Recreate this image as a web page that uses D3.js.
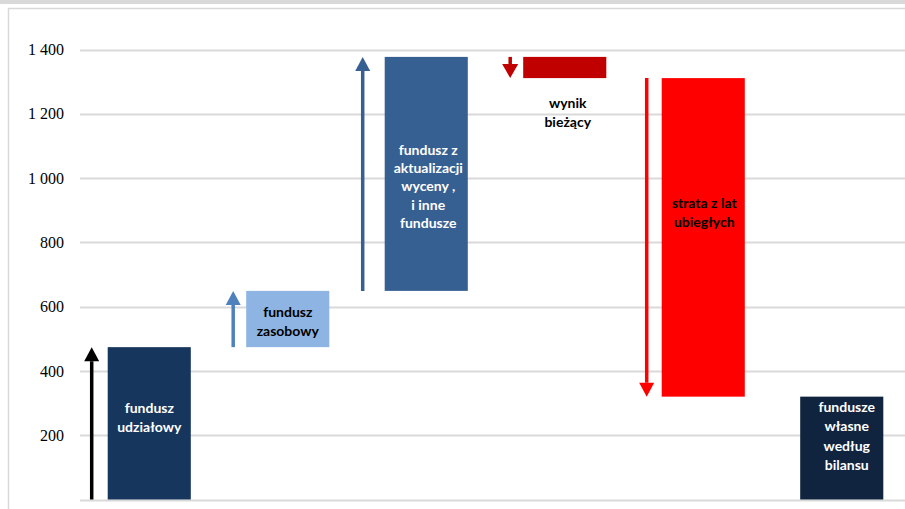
<!DOCTYPE html>
<html><head><meta charset="utf-8">
<script src="https://cdn.jsdelivr.net/npm/d3@7"></script>
<style>html,body{margin:0;padding:0;background:#fff;}svg{display:block;}</style>
</head><body>
<svg id="c" width="905" height="509"></svg>
<script>
const categories = ["fundusz udziałowy","fundusz zasobowy","fundusz z aktualizacji wyceny , i inne fundusze","wynik bieżący","strata z lat ubiegłych","fundusze własne według bilansu"];
const labelLines = [["fundusz","udziałowy"],["fundusz","zasobowy"],["fundusz z","aktualizacji","wyceny ,","i inne","fundusze"],["wynik","bieżący"],["strata z lat","ubiegłych"],["fundusze","własne","według","bilansu"]];
const deltas = [474, 175, 728, -66, -991, 320];
const isTotal = [false, false, false, false, false, true];
const yTicks = [200, 400, 600, 800, 1000, 1200, 1400];
const barColors = ["#17365d","#8db4e2","#376092","#c00000","#ff0000","#10243f"];
const arrowColors = ["#000000","#4f81bd","#376092","#c00000","#ff0000",null];
const textColors = ["#ffffff","#000000","#ffffff","#000000","#000000","#ffffff"];

const svg = d3.select("#c");
// top band and frame
svg.append("rect").attr("x",0).attr("y",0).attr("width",905).attr("height",4).attr("fill","#d9d9d9");
svg.append("line").attr("x1",8).attr("x2",905).attr("y1",8.5).attr("y2",8.5).attr("stroke","#d9d9d9").attr("stroke-width",1.5);
svg.append("line").attr("x1",8.5).attr("x2",8.5).attr("y1",8).attr("y2",509).attr("stroke","#d9d9d9").attr("stroke-width",1.5);

const y = d3.scaleLinear().domain([0,1400]).range([499.5,49.5]);
const x = d3.scaleBand().domain(categories).range([80,911]).paddingInner(0.4).paddingOuter(0.2);

// compute waterfall
let run = 0;
const bars = categories.map((c,i)=>{
  let start, end;
  if (isTotal[i]) { start = 0; end = deltas[i]; }
  else { start = run; end = run + deltas[i]; run = end; }
  return {c, i, start, end};
});

// grid
const grid = svg.append("g");
grid.selectAll("line").data([0].concat(yTicks)).join("line")
  .attr("x1",80).attr("x2",905)
  .attr("y1",d=>Math.round(y(d))+0.5).attr("y2",d=>Math.round(y(d))+0.5)
  .attr("stroke","#d9d9d9").attr("stroke-width",2);

// axis labels
const yAxis = d3.axisLeft(y).tickValues(yTicks).tickSize(0).tickPadding(0)
  .tickFormat(d=>d3.format(",")(d).replace(/,/g," "));
const ag = svg.append("g").attr("transform","translate(64,0)").call(yAxis);
ag.select(".domain").remove();
ag.selectAll("text").attr("font-family","'Liberation Serif','Times New Roman',serif").attr("font-size",16).attr("fill","#000");

// bars
svg.append("g").selectAll("rect").data(bars).join("rect")
  .attr("x",d=>x(d.c)).attr("width",x.bandwidth())
  .attr("y",d=>y(Math.max(d.start,d.end)))
  .attr("height",d=>Math.abs(y(d.start)-y(d.end)))
  .attr("fill",d=>barColors[d.i]);

// arrows
const arrowOffsets = [16, 13, 22, 13, 15];
const headWs = [15, 15, 15, 16, 15];
const ar = svg.append("g");
bars.forEach(d=>{
  if (!arrowColors[d.i]) return;
  const ax = x(d.c) - arrowOffsets[d.i];
  const y0 = y(d.start), y1 = y(d.end);
  const dir = y1 < y0 ? -1 : 1;
  const headH = 14, headW = headWs[d.i];
  const col = arrowColors[d.i];
  ar.append("line").attr("x1",ax).attr("x2",ax)
    .attr("y1",y0).attr("y2",y1 - dir*headH)
    .attr("stroke",col).attr("stroke-width",3.5);
  ar.append("path")
    .attr("d",`M${ax},${y1} L${ax-headW/2},${y1-dir*headH} L${ax+headW/2},${y1-dir*headH} Z`)
    .attr("fill",col);
});

// labels
const labelPos = [
  {dx:0, y:408},{dx:0, y:312},{dx:2, y:150},{dx:3, y:103},{dx:1, y:203},{dx:5, y:407}
];
const lineH = [19.5,19.5,18.2,19,19.5,19.5];
const lg = svg.append("g").attr("font-family","Lato,'Open Sans',sans-serif").attr("font-weight","bold").attr("font-size",14).attr("text-anchor","middle");
bars.forEach(d=>{
  const cx = x(d.c) + x.bandwidth()/2 + labelPos[d.i].dx;
  labelLines[d.i].forEach((t,k)=>{
    lg.append("text").attr("x",cx).attr("y",labelPos[d.i].y + k*lineH[d.i])
      .attr("dy","0.35em").attr("fill",textColors[d.i]).text(t);
  });
});
</script>
</body></html>
